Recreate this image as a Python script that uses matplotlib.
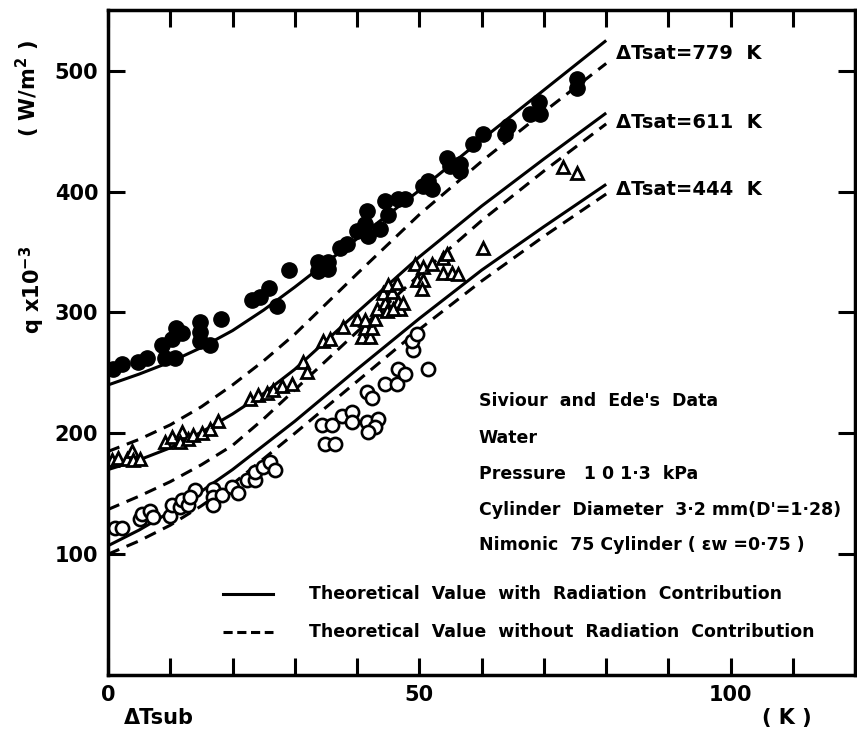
import numpy as np
import matplotlib
matplotlib.use("Agg")
import matplotlib.pyplot as plt

plt.rcParams['font.family'] = ['DejaVu Sans']
plt.rcParams['font.weight'] = 'bold'

# theoretical curves, q x 1e-3 (W/m2) against subcooling (K)
curve_x = [0, 5, 10, 15, 20, 25, 30, 40, 50, 60, 70, 80]
rad_779 = [240, 249, 259, 271, 285, 302, 321, 361, 401, 443, 484, 525]
norad_779 = [185, 195, 207, 222, 240, 260, 282, 332, 381, 425, 466, 506]
rad_611 = [170, 178, 188, 201, 216, 233, 253, 300, 346, 388, 427, 465]
norad_611 = [137, 148, 160, 174, 190, 212, 236, 284, 331, 376, 417, 456]
rad_444 = [107, 120, 135, 152, 170, 190, 210, 253, 295, 335, 371, 406]
norad_444 = [100, 111, 124, 140, 158, 179, 200, 243, 286, 326, 363, 398]

# Siviour and Ede's data, dTsat = 779 K (filled circles)
sub_779 = [0.8, 2.2, 4.8, 6.2, 8.7, 9.1, 10.8, 10.3, 11.0, 11.9, 14.8, 14.8, 14.8,
           16.4, 18.1, 23.1, 24.4, 25.8, 27.1, 29.1, 33.7, 35.3, 33.7, 35.3, 37.2,
           38.4, 40.0, 41.3, 41.8, 41.6, 43.7, 44.5, 45.0, 46.5, 47.7, 50.6, 52.0,
           51.4, 54.4, 54.9, 56.5, 56.5, 58.6, 60.2, 64.2, 63.7, 67.7, 69.3, 69.2,
           75.3, 75.3]
q_779 = [253, 257, 259, 262, 273, 262, 262, 278, 287, 283, 292, 284, 276,
         273, 295, 310, 313, 320, 305, 335, 342, 342, 334, 336, 353,
         357, 367, 373, 363, 384, 369, 392, 381, 394, 394, 405, 402,
         409, 428, 421, 423, 417, 439, 448, 454, 448, 464, 464, 474,
         493, 486]

# dTsat = 611 K (open triangles)
sub_611 = [0.6, 1.6, 3.0, 3.9, 4.0, 5.1, 9.1, 10.3, 11.9, 11.6, 12.8, 13.6, 15.1,
           16.4, 17.7, 22.8, 24.1, 25.5, 26.5, 27.9, 29.5, 31.3, 31.9, 34.5, 35.6,
           37.7, 40.0, 40.8, 42.0, 41.3, 42.4, 41.3, 42.9, 43.2, 44.5, 44.8, 44.1,
           45.6, 45.0, 46.4, 46.5, 46.9, 45.7, 47.4, 49.3, 50.6, 49.6, 50.6, 50.4,
           52.0, 53.8, 54.4, 53.8, 55.2, 56.2, 60.2, 73.0, 75.3]
q_611 = [178, 180, 179, 185, 178, 179, 193, 197, 201, 193, 195, 199, 200,
         204, 210, 228, 232, 233, 236, 239, 241, 259, 251, 276, 278,
         288, 295, 280, 280, 287, 287, 294, 295, 303, 308, 301, 316,
         317, 323, 324, 309, 303, 303, 308, 340, 338, 327, 327, 319,
         340, 345, 348, 333, 333, 332, 353, 420, 415]

# dTsat = 444 K (open circles)
sub_444 = [1.1, 2.2, 5.1, 5.5, 6.7, 7.2, 10.0, 10.3, 11.6, 11.9, 12.8, 14.0, 13.2,
           16.9, 16.9, 16.9, 18.3, 19.9, 20.9, 22.3, 23.6, 23.6, 24.9, 26.0, 26.8,
           34.3, 36.0, 37.6, 39.2, 39.2, 34.8, 36.4, 41.6, 42.4, 41.6, 43.3, 42.9,
           41.7, 44.5, 46.4, 46.5, 47.7, 49.0, 48.8, 49.6, 51.4]
q_444 = [122, 122, 129, 133, 136, 131, 132, 141, 139, 145, 141, 153, 147,
         154, 147, 141, 149, 156, 151, 161, 161, 168, 172, 176, 170,
         207, 207, 214, 218, 209, 191, 191, 234, 229, 209, 212, 205,
         201, 241, 241, 253, 249, 269, 276, 282, 253]

sat_labels = ['\u0394Tsat=779  K', '\u0394Tsat=611  K', '\u0394Tsat=444  K']
sat_label_y = [514, 457, 402]

notes = ["Siviour  and  Ede's  Data",
         "Water",
         "Pressure   1 0 1\u00b73  kPa",
         "Cylinder  Diameter  3\u00b72 mm(D'=1\u00b728)",
         "Nimonic  75 Cylinder ( \u03b5w =0\u00b775 )"]
note_y = [227, 196, 166, 136.5, 107.5]

fig = plt.figure(figsize=(8.57, 7.33), dpi=100)
ax = fig.add_axes([0.126, 0.079, 0.872, 0.907])

lw = 2.2
dash = (0, (4, 2.6))
for yr, yn in [(rad_779, norad_779), (rad_611, norad_611), (rad_444, norad_444)]:
    ax.plot(curve_x, yr, color='black', lw=lw, solid_capstyle='butt')
    ax.plot(curve_x, yn, color='black', lw=lw, linestyle=dash)

ax.plot(sub_779, q_779, 'o', color='black', ms=11, ls='none')
ax.plot(sub_611, q_611, '^', mfc='white', mec='black', mew=2.0, ms=8.5, ls='none')
ax.plot(sub_444, q_444, 'o', mfc='white', mec='black', mew=1.9, ms=9.5, ls='none')

for lab, yy in zip(sat_labels, sat_label_y):
    ax.text(81.5, yy, lab, fontsize=14, fontweight='bold', va='center', ha='left')

for n, yy in zip(notes, note_y):
    ax.text(59.5, yy, n, fontsize=12.5, fontweight='bold', va='center', ha='left')

# legend drawn by hand as in the original figure
ax.plot([18.5, 26.5], [67, 67], color='black', lw=lw)
ax.plot([18.5, 26.5], [36, 36], color='black', lw=lw, linestyle=(0, (3, 1.5)))
ax.text(32.3, 67, 'Theoretical  Value  with  Radiation  Contribution',
        fontsize=12.5, fontweight='bold', va='center')
ax.text(32.3, 36, 'Theoretical  Value  without  Radiation  Contribution',
        fontsize=12.5, fontweight='bold', va='center')

ax.set_xlim(0, 120)
ax.set_ylim(0, 550)
ax.set_xticks(np.arange(0, 121, 10))
ax.set_xticklabels(['0', '', '', '', '', '50', '', '', '', '', '100', '', ''])
ax.set_yticks([100, 200, 300, 400, 500])
ax.set_yticklabels(['100', '200', '300', '400', '500'])
ax.tick_params(axis='both', direction='in', length=12, width=2.2,
               top=True, right=True, labelsize=15, pad=7)
for lbl in ax.get_xticklabels() + ax.get_yticklabels():
    lbl.set_fontweight('bold')
for sp in ax.spines.values():
    sp.set_linewidth(2.5)

fig.text(0.145, 0.020, '\u0394Tsub', fontsize=15, fontweight='bold', va='center')
fig.text(0.918, 0.020, '( K )', fontsize=15, fontweight='bold', va='center',
         ha='center')
fig.text(0.038, 0.605, 'q x10$^{-3}$', fontsize=15, fontweight='bold',
         rotation=90, va='center', ha='center')
fig.text(0.032, 0.88, '( W/m$^{2}$ )', fontsize=15, fontweight='bold',
         rotation=90, va='center', ha='center')

fig.savefig('out.png', dpi=100)
